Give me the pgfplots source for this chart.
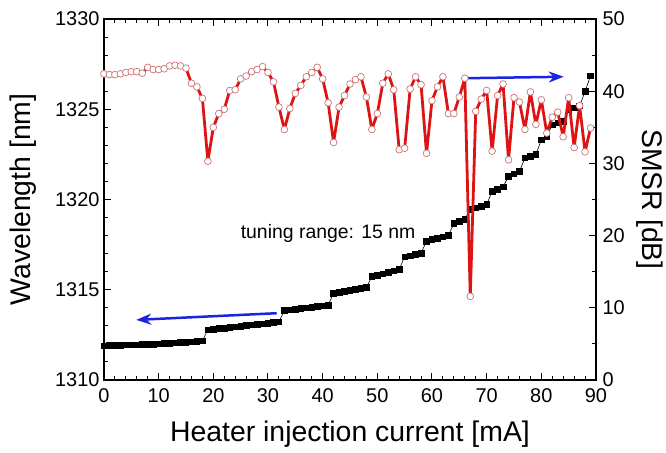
\documentclass[border=0pt]{standalone}
\usepackage{pgfplots}
\pgfplotsset{compat=1.18}
\usepackage{pgfplotstable}
\usepackage{fontspec}
\setmainfont{Liberation Sans}
\usetikzlibrary{arrows.meta}
\definecolor{smsrred}{RGB}{222,20,20}
\definecolor{circ}{RGB}{205,115,115}
\definecolor{arrblue}{RGB}{25,35,225}

\pgfplotstableread{
x y
0 1311.90
1 1311.91
2 1311.92
3 1311.93
4 1311.94
5 1311.95
6 1311.96
7 1311.97
8 1311.98
9 1311.99
10 1312.00
11 1312.02
12 1312.04
13 1312.06
14 1312.08
15 1312.10
16 1312.12
17 1312.15
18 1312.18
19 1312.78
20 1312.81
21 1312.85
22 1312.88
23 1312.91
24 1312.95
25 1312.98
26 1313.02
27 1313.05
28 1313.08
29 1313.12
30 1313.15
31 1313.19
32 1313.22
33 1313.85
34 1313.89
35 1313.93
36 1313.96
37 1314.00
38 1314.04
39 1314.08
40 1314.11
41 1314.15
42 1314.80
43 1314.85
44 1314.91
45 1314.96
46 1315.01
47 1315.07
48 1315.12
49 1315.73
50 1315.81
51 1315.89
52 1315.97
53 1316.05
54 1316.13
55 1316.83
56 1316.89
57 1316.95
58 1317.02
59 1317.70
60 1317.78
61 1317.85
62 1317.93
63 1318.00
64 1318.67
65 1318.78
66 1318.90
67 1319.45
68 1319.54
69 1319.63
70 1319.72
71 1320.46
72 1320.58
73 1320.70
74 1321.29
75 1321.43
76 1321.56
77 1322.30
78 1322.40
79 1322.49
80 1323.30
81 1323.50
82 1324.14
83 1324.24
84 1324.33
85 1324.97
86 1325.08
87 1325.19
88 1325.98
89 1326.85
}\wltable

\pgfplotstableread{
x s
0 42.4
1 42.3
2 42.3
3 42.4
4 42.6
5 42.7
6 42.7
7 42.5
8 43.3
9 43.0
10 43.0
11 43.1
12 43.5
13 43.6
14 43.5
15 43.2
16 41.1
17 40.6
18 39.0
19 30.3
20 35.0
21 36.9
22 37.5
23 40.1
24 40.2
25 41.7
26 42.1
27 42.7
28 43.0
29 43.4
30 42.6
31 41.3
32 37.8
33 34.7
34 37.6
35 39.7
36 40.8
37 42.0
38 42.6
39 43.3
40 41.7
41 38.4
42 32.9
43 37.8
44 39.4
45 41.0
46 41.6
47 42.0
48 39.2
49 34.7
50 36.9
51 41.1
52 42.4
53 40.2
54 31.9
55 32.1
56 40.3
57 42.0
58 40.9
59 31.4
60 38.7
61 40.6
62 42.0
63 36.9
64 36.9
65 39.2
66 41.8
67 11.6
68 37.2
69 38.9
70 40.1
71 31.7
72 39.4
73 41.0
74 30.5
75 39.1
76 38.5
77 34.7
78 39.9
79 35.4
80 38.8
81 34.2
82 36.4
83 37.1
84 33.7
85 39.1
86 32.2
87 38.0
88 31.6
89 34.9
}\smsrtable

\pgfplotsset{base/.style={
  scale only axis, width=492bp, height=361bp,
  xmin=0, xmax=90,
  axis line style={line width=1.4bp},
  tick style={line width=1bp, black},
  major tick length=7bp, minor tick length=4bp,
  tick align=inside,
  tick label style={font=\fontsize{20}{24}\selectfont},
  label style={font=\fontsize{28.5}{32}\selectfont},
  /pgf/number format/assume math mode=true,
  /pgf/number format/1000 sep={},
}}

\begin{document}
\begin{tikzpicture}
\useasboundingbox (-104bp,-73bp) rectangle (562bp,380bp);
\begin{axis}[base,
  ymin=1310, ymax=1330,
  ytick={1310,1315,...,1330},
  minor ytick={1310,...,1330},
  xtick={0,10,...,90},
  minor xtick={0,2,...,90},
  xtick pos=both, xticklabel pos=lower,
  ytick pos=left,
  xticklabel style={yshift=-5bp},
  yticklabel style={xshift=-1bp},
  xlabel={Heater injection current [mA]},
  ylabel={Wavelength [nm]},
  xlabel style={at={(axis description cs:0.5,-0.15)}, anchor=center},
  ylabel style={at={(axis description cs:-0.165,0.5)}, anchor=center},
]
\addplot[black, line width=0.6bp, mark=square*, mark size=2.8bp, mark options={solid, fill=black}] table[x=x, y=y] {\wltable};
\draw[arrblue, line width=2.5bp, -{Stealth[length=15bp,width=11bp]}] (axis cs:31.6,1313.7) -- (axis cs:5.9,1313.33);
\node[anchor=east, font=\fontsize{19.5}{23}\selectfont] at (axis cs:57.6,1318.1) {tuning range: 15 nm};
\end{axis}
\begin{axis}[base,
  ymin=0, ymax=50,
  ytick={0,10,...,50},
  minor ytick={0,5,...,50},
  xtick=\empty, minor xtick={},
  ytick pos=right, yticklabel pos=right,
  yticklabel style={xshift=3bp},
  ylabel={SMSR [dB]},
  ylabel style={at={(axis description cs:1.11,0.5)}, anchor=center, rotate=180},
]
\addplot[smsrred, line width=2.8bp, line join=round, mark=*, mark size=3.4bp, mark options={solid, fill=white, draw=circ, line width=0.7bp}] table[x=x, y=s] {\smsrtable};
\draw[arrblue, line width=2.5bp, -{Stealth[length=15bp,width=11bp]}] (axis cs:66.3,41.8) -- (axis cs:84.1,42.0);
\end{axis}
\end{tikzpicture}
\end{document}
